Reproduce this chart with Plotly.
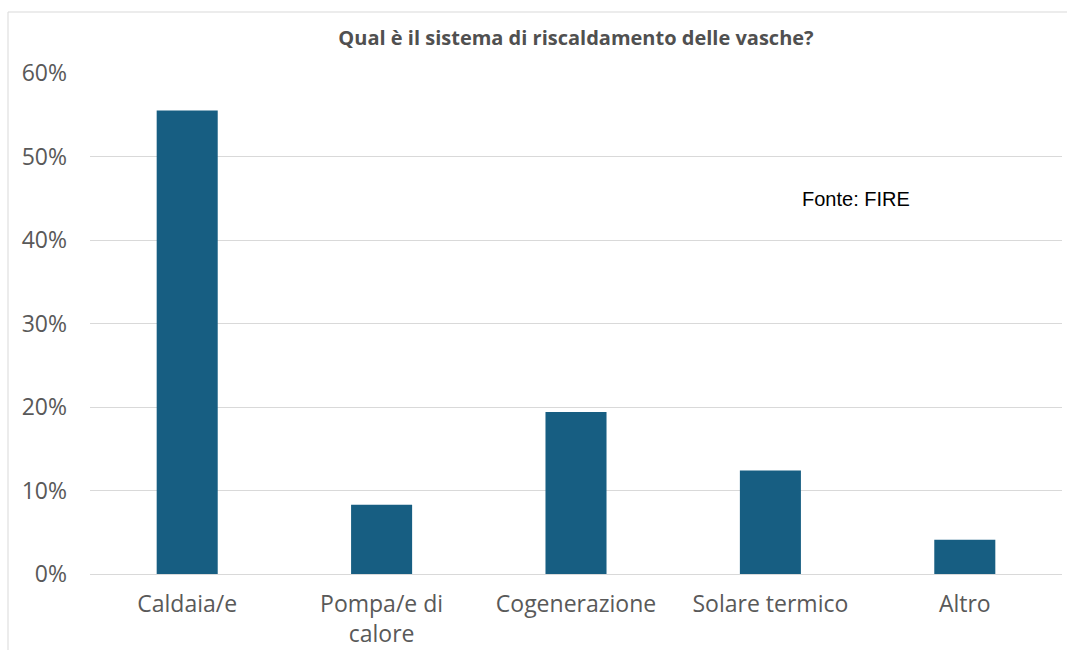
import plotly.graph_objects as go

categories = ["Caldaia/e", "Pompa/e di<br>calore", "Cogenerazione", "Solare termico", "Altro"]
values = [0.555, 0.083, 0.194, 0.124, 0.041]
tick_vals = [0, 0.1, 0.2, 0.3, 0.4, 0.5, 0.6]
tick_text = ["0%", "10%", "20%", "30%", "40%", "50%", "60%"]

W, H = 1067, 650
L, R, T, B = 90, 5, 73, 76
pw, ph = W - L - R, H - T - B

def px_x(x):
    return (x - L) / pw

def px_y(y):
    return (H - B - y) / ph

fig = go.Figure()
fig.add_trace(go.Bar(x=categories, y=values, marker_color="#175E82",
                     marker_line_width=0, hoverinfo="skip"))

fig.update_layout(
    width=W, height=H,
    margin=dict(l=L, r=R, t=T, b=B),
    paper_bgcolor="white", plot_bgcolor="white",
    bargap=0.686,
    showlegend=False,
    font=dict(family="Open Sans", color="#595959"),
    title=dict(text="<b>Qual è il sistema di riscaldamento delle vasche?</b>",
               x=0.5, xref="paper", xanchor="center",
               y=1 - 38 / H, yanchor="middle",
               font=dict(family="Open Sans", size=20, color="#505050")),
    xaxis=dict(showgrid=False, showline=False, ticks="",
               ticklabelstandoff=14, automargin=False,
               tickfont=dict(size=23, color="#595959"), fixedrange=True),
    yaxis=dict(range=[0, 0.6], tickvals=tick_vals, ticktext=tick_text,
               showgrid=True, gridcolor="#D9D9D9", gridwidth=1,
               zeroline=True, zerolinecolor="#D9D9D9", zerolinewidth=1,
               showline=False, ticks="", ticklabelstandoff=22, automargin=False,
               tickfont=dict(size=23, color="#595959"), fixedrange=True),
    shapes=[dict(type="rect", xref="paper", yref="paper",
                 x0=px_x(8), x1=px_x(1075), y0=px_y(660), y1=px_y(12),
                 line=dict(color="#D9D9D9", width=1), fillcolor="rgba(0,0,0,0)",
                 layer="below")],
    annotations=[dict(text="Fonte: FIRE", xref="paper", yref="paper",
                      x=px_x(800), y=px_y(199), xanchor="left", yanchor="middle",
                      showarrow=False,
                      font=dict(family="Liberation Sans", size=20, color="#000000"))],
)

fig.write_html("out.html", config={"displayModeBar": False},
               post_script="document.body.style.margin='0px';document.body.style.overflow='hidden';")
